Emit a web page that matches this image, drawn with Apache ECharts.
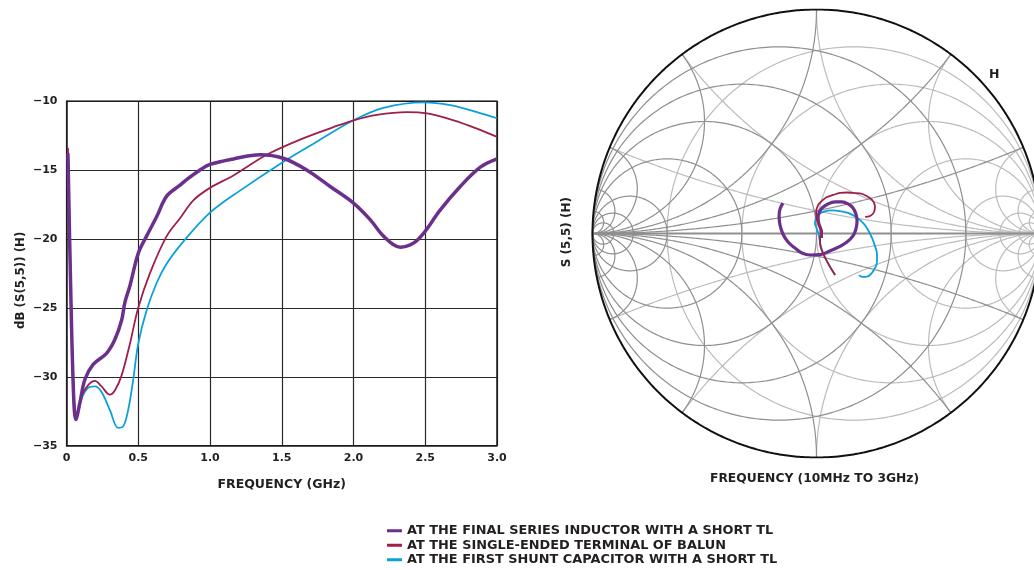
<!DOCTYPE html>
<html>
<head>
<meta charset="utf-8">
<script src="https://cdn.jsdelivr.net/npm/echarts@6/dist/echarts.min.js"></script>
<style>
html,body{margin:0;padding:0;background:#fff;}
#chart{width:1034px;height:570px;}
</style>
</head>
<body>
<div id="chart"></div>
<script>
// ---------- DATA ----------
const seriesNames = [
  'AT THE FINAL SERIES INDUCTOR WITH A SHORT TL',
  'AT THE SINGLE-ENDED TERMINAL OF BALUN',
  'AT THE FIRST SHUNT CAPACITOR WITH A SHORT TL'
];
const seriesColors = ['#6b2f8c', '#a01e4b', '#0aa0dc'];

const xTicks = [0, 0.5, 1.0, 1.5, 2.0, 2.5, 3.0];
const yTicks = [-35, -30, -25, -20, -15, -10];

// dB(S(5,5)) vs frequency (GHz)
const purpleFreq = [0.01,0.03,0.05,0.065,0.093,0.128,0.186,0.279,0.337,0.384,0.407,0.442,0.5,0.558,0.628,0.698,0.791,0.837,0.93,1.0,1.163,1.349,1.51,1.674,1.837,2.0,2.116,2.209,2.326,2.419,2.488,2.605,2.744,2.884,3.0];
const purpleDb   = [-13.8,-24.0,-31.5,-33.1,-31.9,-30.2,-29.1,-28.3,-27.3,-25.9,-24.6,-23.4,-21.05,-19.8,-18.4,-16.9,-16.1,-15.7,-15.0,-14.6,-14.2,-13.9,-14.15,-15.0,-16.2,-17.4,-18.6,-19.8,-20.6,-20.3,-19.6,-17.9,-16.2,-14.8,-14.2];

const redFreq = [0.01,0.03,0.05,0.07,0.105,0.151,0.198,0.244,0.302,0.337,0.384,0.442,0.5,0.581,0.698,0.791,0.884,1.0,1.163,1.395,1.628,1.86,2.0,2.163,2.372,2.512,2.698,2.86,3.0];
const redDb   = [-13.4,-23.5,-31.0,-32.9,-31.4,-30.6,-30.3,-30.7,-31.3,-31.0,-29.9,-27.6,-25.0,-22.5,-19.8,-18.5,-17.2,-16.3,-15.4,-13.9,-12.8,-11.9,-11.4,-11.0,-10.8,-10.9,-11.4,-12.0,-12.6];

const blueFreq = [0.01,0.03,0.05,0.07,0.105,0.151,0.198,0.244,0.302,0.36,0.395,0.43,0.465,0.5,0.558,0.628,0.698,0.814,1.0,1.209,1.512,1.744,2.0,2.209,2.488,2.674,2.86,3.0];
const blueDb   = [-13.7,-23.8,-31.2,-33.0,-31.6,-30.8,-30.7,-31.1,-32.4,-33.7,-33.6,-32.4,-30.2,-27.6,-25.2,-23.2,-21.8,-20.2,-18.1,-16.5,-14.4,-12.95,-11.4,-10.5,-10.1,-10.3,-10.8,-11.25];

// S(5,5) on the Smith chart: reflection coefficient (real, imaginary), 10 MHz to 3 GHz
const purpleRe = [0.022,0.020,0.011,0.007,0.011,0.025,0.051,0.083,0.114,0.141,0.163,0.176,0.181,0.176,0.163,0.136,0.100,0.060,0.016,-0.029,-0.065,-0.096,-0.127,-0.150,-0.163,-0.167,-0.163,-0.150];
const purpleIm = [-0.020,0.016,0.042,0.069,0.092,0.114,0.132,0.141,0.141,0.132,0.114,0.087,0.056,0.020,-0.011,-0.038,-0.060,-0.078,-0.094,-0.096,-0.087,-0.065,-0.038,-0.002,0.038,0.078,0.109,0.136];

const redRe = [0.083,0.051,0.029,0.016,0.016,0.025,0.016,0.002,-0.002,0.007,0.029,0.047,0.074,0.105,0.136,0.163,0.194,0.225,0.248,0.261,0.257,0.239,0.217];
const redIm = [-0.185,-0.132,-0.087,-0.047,-0.016,0.007,0.029,0.060,0.092,0.127,0.150,0.163,0.172,0.181,0.183,0.181,0.179,0.167,0.150,0.123,0.096,0.078,0.074];

const blueRe = [0.083,0.051,0.029,0.016,0.011,0.002,-0.007,-0.002,0.011,0.033,0.069,0.105,0.141,0.176,0.208,0.230,0.248,0.261,0.270,0.270,0.261,0.243,0.221,0.199,0.190];
const blueIm = [-0.185,-0.132,-0.087,-0.042,-0.011,0.020,0.047,0.069,0.087,0.098,0.103,0.100,0.092,0.074,0.047,0.016,-0.020,-0.056,-0.092,-0.127,-0.154,-0.181,-0.194,-0.192,-0.185];

// Smith chart grid values
const resistanceValues  = [0.2, 0.5, 1, 2, 5, 10, 20];   // light (impedance)
const reactanceValues   = [0.2, 0.5, 1, 2, 5, 10, 20];
const conductanceValues = [0.2, 0.5, 1, 2, 5, 10, 20];   // dark (admittance)
const susceptanceValues = [0.2, 0.5, 1, 2, 5, 10, 20];

// ---------- HELPERS ----------
const zip = (a, b) => a.map((v, i) => [v, b[i]]);
function gammaOf(r, x) { // z = r + jx -> gamma
  const den = (r + 1) * (r + 1) + x * x;
  return [(r * r + x * x - 1) / den, (2 * x) / den];
}
function resCircle(r) {
  const pts = [];
  for (let i = 0; i <= 360; i++) {
    const t = i / 360 * Math.PI * 2;
    const c = r / (1 + r), rad = 1 / (1 + r);
    pts.push([c + rad * Math.cos(t), rad * Math.sin(t)]);
  }
  return pts;
}
function reactArc(x) {
  const pts = [];
  for (let i = 0; i <= 400; i++) {
    const t = i / 400 * (Math.PI / 2 - 0.0005);
    pts.push(gammaOf(Math.tan(t), x));
  }
  return pts;
}
const neg = pts => pts.map(p => [-p[0], p[1]]);
const lightCurves = [];
resistanceValues.forEach(r => lightCurves.push({ coords: resCircle(r) }));
reactanceValues.forEach(x => { lightCurves.push({ coords: reactArc(x) }); lightCurves.push({ coords: reactArc(-x) }); });
const darkCurves = [];
conductanceValues.forEach(g => darkCurves.push({ coords: neg(resCircle(g)) }));
susceptanceValues.forEach(b => { darkCurves.push({ coords: neg(reactArc(b)) }); darkCurves.push({ coords: neg(reactArc(-b)) }); });
const outer = [];
for (let i = 0; i <= 720; i++) { const t = i / 720 * Math.PI * 2; outer.push([Math.cos(t), Math.sin(t)]); }

// ---------- CHART ----------
const FONT = '"DejaVu Sans", "Liberation Sans", Arial, sans-serif';
const TXT = '#231f20';
const chart = echarts.init(document.getElementById('chart'), null, { renderer: 'canvas' });

const smithCx = 816.5, smithCy = 233.5, smithR = 224;
const smithLeft = smithCx - smithR;
const smithXmax = (1034 - smithCx) / smithR;

const option = {
  animation: false,
  backgroundColor: '#fff',
  textStyle: { fontFamily: FONT },
  grid: [
    { left: 66.5, top: 101, width: 430.5, height: 344.7, show: false },
    { left: smithLeft, top: smithCy - smithR, width: 1034 - smithLeft, height: 2 * smithR, show: false }
  ],
  xAxis: [
    {
      gridIndex: 0, type: 'value', min: 0, max: 3, interval: 0.5,
      name: 'FREQUENCY (GHz)', nameLocation: 'middle', nameGap: 33,
      nameTextStyle: { fontFamily: FONT, fontSize: 12.5, fontWeight: 'bold', color: TXT },
      axisLine: { show: true, onZero: false, lineStyle: { color: '#1a1a1a', width: 1.5 } },
      axisTick: { show: false },
      splitLine: { show: true, lineStyle: { color: '#2a2a2a', width: 1.2 } },
      axisLabel: { margin: 7, fontFamily: FONT, fontSize: 11, fontWeight: 'bold', color: TXT,
        formatter: v => v === 0 ? '0' : v.toFixed(1) }
    },
    { gridIndex: 1, type: 'value', min: -1, max: smithXmax, show: false }
  ],
  yAxis: [
    {
      gridIndex: 0, type: 'value', min: -35, max: -10, interval: 5,
      name: 'dB (S(5,5)) (H)', nameLocation: 'middle', nameGap: 40,
      nameTextStyle: { fontFamily: FONT, fontSize: 11.8, fontWeight: 'bold', color: TXT, padding: [0, 14, 0, 0] },
      axisLine: { show: true, onZero: false, lineStyle: { color: '#1a1a1a', width: 1.5 } },
      axisTick: { show: false },
      splitLine: { show: true, lineStyle: { color: '#2a2a2a', width: 1.2 } },
      axisLabel: { margin: 9, fontFamily: FONT, fontSize: 11, fontWeight: 'bold', color: TXT,
        formatter: v => String(v).replace('-', '\u2212') }
    },
    { gridIndex: 1, type: 'value', min: -1, max: 1, show: false }
  ],
  legend: {
    data: seriesNames.map(n => ({ name: n, icon: 'rect' })),
    orient: 'vertical', left: 387, top: 523.5, height: 80, itemGap: 0, padding: 0,
    itemWidth: 15, itemHeight: 3,
    textStyle: { fontFamily: FONT, fontSize: 12.9, fontWeight: 'bold', color: TXT, lineHeight: 14.5 },
    selectedMode: false
  },
  graphic: [
    { type: 'text', left: 561, top: 197, rotation: Math.PI / 2, style: { text: 'S (5,5) (H)', font: 'bold 12px ' + FONT, fill: TXT }, silent: true },
    { type: 'text', left: 710, top: 473, style: { text: 'FREQUENCY (10MHz TO 3GHz)', font: 'bold 12.3px ' + FONT, fill: TXT }, silent: true },
    { type: 'text', left: 989, top: 68, style: { text: 'H', font: 'bold 12.5px ' + FONT, fill: TXT }, silent: true }
  ],
  series: [
    { type: 'line', xAxisIndex: 0, yAxisIndex: 0, data: [[0, -10], [3, -10], [3, -35]], symbol: 'none', silent: true,
      lineStyle: { color: '#1a1a1a', width: 1.5 }, z: 1 },
    { name: seriesNames[2], type: 'line', xAxisIndex: 0, yAxisIndex: 0, data: zip(blueFreq, blueDb),
      smooth: 0.35, symbol: 'none', color: seriesColors[2], lineStyle: { width: 1.8 }, z: 3 },
    { name: seriesNames[1], type: 'line', xAxisIndex: 0, yAxisIndex: 0, data: zip(redFreq, redDb),
      smooth: 0.35, symbol: 'none', color: seriesColors[1], lineStyle: { width: 1.8 }, z: 4 },
    { name: seriesNames[0], type: 'line', xAxisIndex: 0, yAxisIndex: 0, data: zip(purpleFreq, purpleDb),
      smooth: 0.35, symbol: 'none', color: seriesColors[0], lineStyle: { width: 3.5 }, z: 5 },

    // Smith chart grid
    { type: 'lines', coordinateSystem: 'cartesian2d', xAxisIndex: 1, yAxisIndex: 1, polyline: true, silent: true,
      data: lightCurves, lineStyle: { color: '#bcbcbc', width: 1.2, opacity: 1 }, z: 1 },
    { type: 'lines', coordinateSystem: 'cartesian2d', xAxisIndex: 1, yAxisIndex: 1, polyline: true, silent: true,
      data: darkCurves, lineStyle: { color: '#8f8f8f', width: 1.2, opacity: 1 }, z: 2 },
    { type: 'lines', coordinateSystem: 'cartesian2d', xAxisIndex: 1, yAxisIndex: 1, polyline: true, silent: true,
      data: [{ coords: [[-1, 0], [1, 0]] }], lineStyle: { color: '#8f8f8f', width: 2, opacity: 1 }, z: 2 },
    { type: 'lines', coordinateSystem: 'cartesian2d', xAxisIndex: 1, yAxisIndex: 1, polyline: true, silent: true,
      data: [{ coords: outer }], lineStyle: { color: '#111', width: 2, opacity: 1 }, z: 3 },

    // Smith chart traces
    { name: seriesNames[2], type: 'line', xAxisIndex: 1, yAxisIndex: 1, data: zip(blueRe, blueIm),
      smooth: 0.4, symbol: 'none', color: seriesColors[2], lineStyle: { width: 1.8 }, z: 6 },
    { name: seriesNames[0], type: 'line', xAxisIndex: 1, yAxisIndex: 1, data: zip(purpleRe, purpleIm),
      smooth: 0.4, symbol: 'none', color: seriesColors[0], lineStyle: { width: 3.2 }, z: 7 },
    { name: seriesNames[1], type: 'line', xAxisIndex: 1, yAxisIndex: 1, data: zip(redRe, redIm),
      smooth: 0.4, symbol: 'none', color: seriesColors[1], lineStyle: { width: 1.8 }, z: 8 }
  ]
};
chart.setOption(option);
</script>
</body>
</html>
